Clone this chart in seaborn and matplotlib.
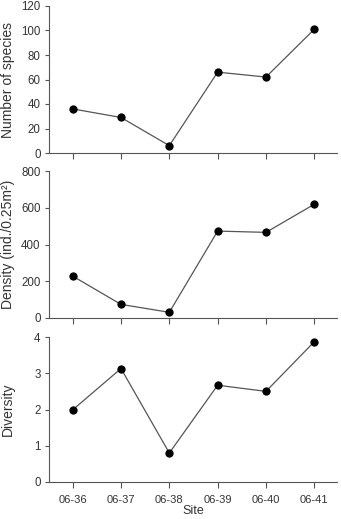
import matplotlib
matplotlib.use("Agg")
import matplotlib.pyplot as plt
import seaborn as sns
import numpy as np

sites = ["06-36", "06-37", "06-38", "06-39", "06-40", "06-41"]
species = [36, 29, 6, 66, 62, 101]
density = [228, 74, 31, 473, 466, 619]
diversity = [1.99, 3.13, 0.80, 2.67, 2.50, 3.87]

sns.set_style("white")
plt.rcParams['font.family'] = ['Liberation Sans', 'DejaVu Sans']

W, H = 341, 519
fig = plt.figure(figsize=(W/100, H/100), dpi=100)

def ax_at(left, top, right, bottom):
    return fig.add_axes([left/W, 1-bottom/H, (right-left)/W, (bottom-top)/H])

panels = [
    (species, (0, 120), [0, 20, 40, 60, 80, 100, 120], "Number of species", 6, 153),
    (density, (0, 800), [0, 200, 400, 600, 800], "Density (ind./0.25m\u00b2)", 171, 318),
    (diversity, (0, 4), [0, 1, 2, 3, 4], "Diversity", 337, 482),
]
x = np.arange(len(sites))
spine_col = "#555555"
txt_col = "#333333"
for i, (vals, ylim, yt, ylab, top, bot) in enumerate(panels):
    ax = ax_at(49, top, 337, bot)
    sns.lineplot(x=x, y=vals, ax=ax, color="#555555", linewidth=0.9,
                 marker="o", markersize=5.2, markerfacecolor="black",
                 markeredgecolor="black")
    ax.set_xlim(-0.49, 5.47)
    ax.set_ylim(*ylim)
    ax.set_yticks(yt)
    ax.set_xticks(x)
    ax.set_yticklabels([str(v) for v in yt], fontsize=8.3, color=txt_col)
    if i < 2:
        ax.set_xticklabels([])
    else:
        ax.set_xticklabels(sites, fontsize=8, color=txt_col)
        ax.set_xlabel("Site", fontsize=9, color=txt_col, labelpad=0)
    ax.set_ylabel(ylab, fontsize=10, color=txt_col)
    ax.yaxis.set_label_coords((15 - 49) / 288, 0.5)
    for s in ["top", "right"]:
        ax.spines[s].set_visible(False)
    for s in ["left", "bottom"]:
        ax.spines[s].set_color(spine_col)
        ax.spines[s].set_linewidth(0.8)
    ax.tick_params(axis="x", direction="out", length=4, width=0.8, color=spine_col, bottom=True, pad=5.5)
    ax.tick_params(axis="y", direction="out", length=3, width=0.8, color=spine_col, left=True, pad=3)

fig.savefig("out.png", dpi=100)
